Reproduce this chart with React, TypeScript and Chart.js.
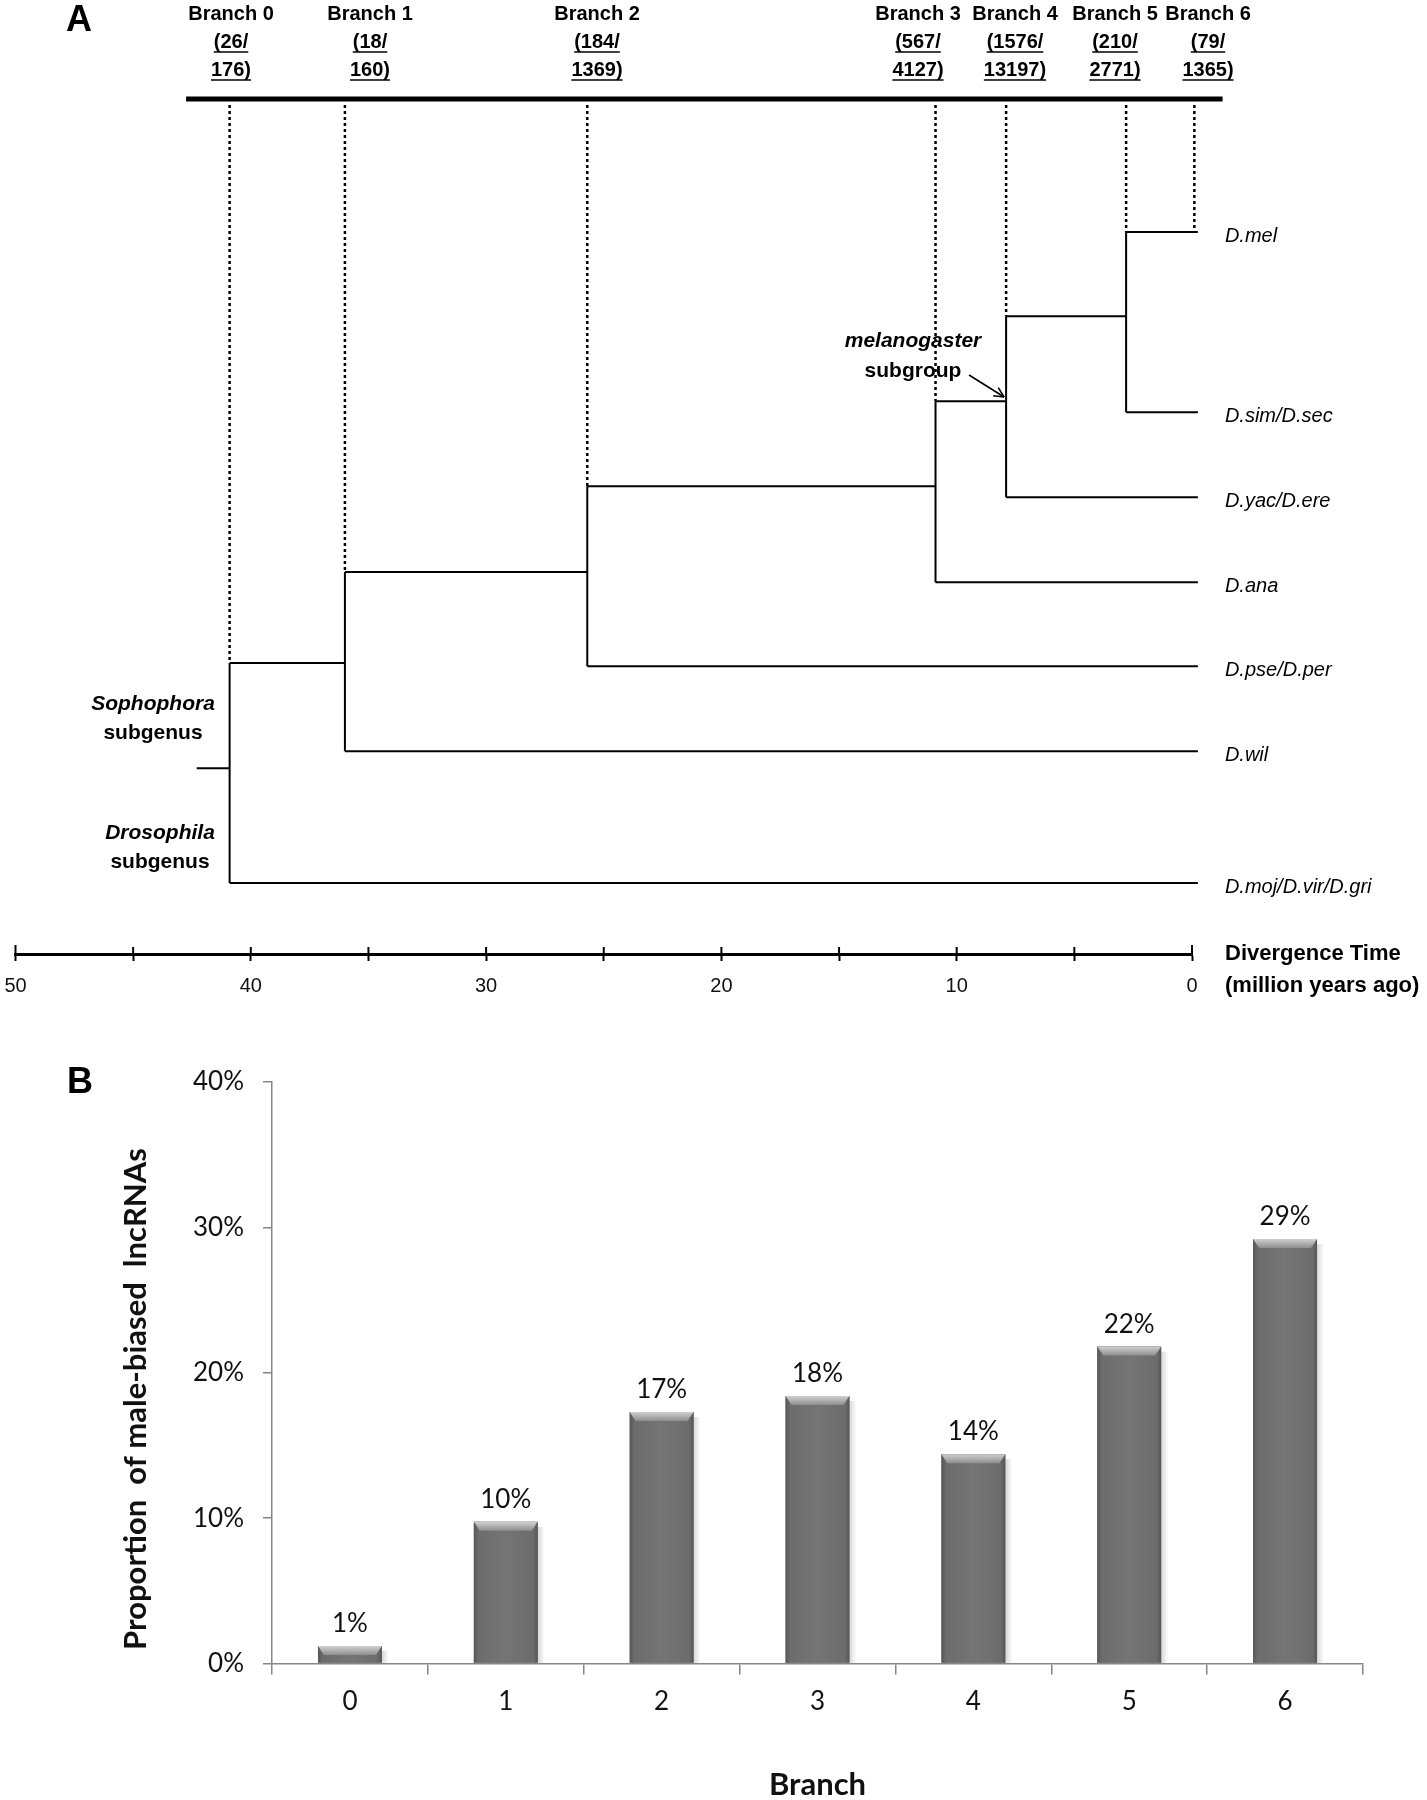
import React, { useEffect, useRef } from "react";
import { Chart, registerables } from "chart.js";

Chart.register(...registerables);

// ---- panel A: tree ----
const branchIds = ["0", "1", "2", "3", "4", "5", "6"];
const branchShared = [26, 18, 184, 567, 1576, 210, 79];
const branchTotal = [176, 160, 1369, 4127, 13197, 2771, 1365];
// age (million years ago) of the node that starts branch 0..5
const nodeAges = [40.9, 36.0, 25.7, 10.9, 7.9, 2.8];
// vertical row of each node's stem
const nodeRows = [6.31, 5.07, 4.0, 2.99, 1.99, 0.99];
const species = ["D.mel", "D.sim/D.sec", "D.yac/D.ere", "D.ana", "D.pse/D.per", "D.wil", "D.moj/D.vir/D.gri"];
const speciesRows = [0, 2.12, 3.12, 4.12, 5.11, 6.11, 7.66];
const rootAge = 42.3;
const tipAge = -0.25;
const branch6Age = -0.1;
const timeMin = 0;
const timeMax = 50;

// ---- panel B: bars ----
const maleBiasedPct = [1.2, 9.75, 17.3, 18.4, 14.4, 21.8, 29.2];
const pctTicks = [0, 10, 20, 30, 40];

// layout (pixels) for panel A
const A_H = 1030;
const AXIS_Y = 954;
const ROW0_PX = 232;
const ROW_PX = 85;
const TOP_BAR_PX = 99;
const DOT_TOP_PX = 105;
const branchLabelX = [231, 370, 597, 918, 1015, 1115, 1208];

const toRow = (px: number) => (px - ROW0_PX) / ROW_PX;

const FONT_A = '"Liberation Sans", Arial, sans-serif';
const FONT_B = 'Lato, "Liberation Sans", sans-serif';

function seg(points: { x: number; y: number }[], width = 2, dash: number[] = []) {
  return {
    data: points,
    showLine: true,
    borderColor: "#000",
    borderWidth: width,
    borderDash: dash,
    pointRadius: 0,
    clip: false as any,
    borderCapStyle: "butt" as const,
  };
}

function treeDatasets() {
  const sets: any[] = [];
  const topRow = toRow(TOP_BAR_PX);
  const dotTop = toRow(DOT_TOP_PX);
  sets.push(seg([{ x: 42.75, y: topRow }, { x: -1.3, y: topRow }], 5));
  // root stub
  sets.push(seg([{ x: rootAge, y: nodeRows[0] }, { x: nodeAges[0], y: nodeRows[0] }]));
  nodeAges.forEach((age, i) => {
    const upperRow = i < nodeAges.length - 1 ? nodeRows[i + 1] : speciesRows[0];
    const leaf = species.length - 1 - i;
    const lowerRow = speciesRows[leaf];
    sets.push(seg([{ x: age, y: upperRow }, { x: age, y: lowerRow }]));
    sets.push(seg([{ x: age, y: lowerRow }, { x: tipAge, y: lowerRow }]));
    const upperEnd = i < nodeAges.length - 1 ? nodeAges[i + 1] : tipAge;
    sets.push(seg([{ x: age, y: upperRow }, { x: upperEnd, y: upperRow }]));
    // dotted branch marker
    sets.push(seg([{ x: age, y: dotTop }, { x: age, y: upperRow }], 2.5, [3, 3]));
  });
  sets.push(seg([{ x: branch6Age, y: dotTop }, { x: branch6Age, y: speciesRows[0] }], 2.5, [3, 3]));
  return sets;
}

const treeText = {
  id: "treeText",
  afterDraw(chart: any) {
    const { ctx } = chart;
    const xs = chart.scales.x;
    const ys = chart.scales.y;
    ctx.save();
    ctx.fillStyle = "#000";
    ctx.strokeStyle = "#000";
    ctx.textBaseline = "middle";

    ctx.textAlign = "center";
    ctx.font = `bold 36px ${FONT_A}`;
    ctx.fillText("A", 79, 21);

    // branch headers
    ctx.font = `bold 20px ${FONT_A}`;
    branchIds.forEach((id, i) => {
      const cx = branchLabelX[i];
      ctx.fillText(`Branch ${id}`, cx, 14);
      const l2 = `(${branchShared[i]}/`;
      const l3 = `${branchTotal[i]})`;
      [[l2, 42], [l3, 70]].forEach(([t, y]: any) => {
        ctx.fillText(t, cx, y);
        const w = ctx.measureText(t).width;
        ctx.lineWidth = 1.6;
        ctx.beginPath();
        ctx.moveTo(cx - w / 2, y + 10);
        ctx.lineTo(cx + w / 2, y + 10);
        ctx.stroke();
      });
    });

    // species
    ctx.textAlign = "left";
    ctx.font = `italic 20px ${FONT_A}`;
    const lx = xs.getPixelForValue(tipAge) + 27;
    species.forEach((s, i) => {
      ctx.fillText(s, lx, ys.getPixelForValue(speciesRows[i]) + 4);
    });

    // groups
    ctx.textAlign = "center";
    ctx.font = `italic bold 21px ${FONT_A}`;
    ctx.fillText("Sophophora", 153, 704);
    ctx.fillText("Drosophila", 160, 833);
    ctx.fillText("melanogaster", 913, 341);
    ctx.font = `bold 21px ${FONT_A}`;
    ctx.fillText("subgenus", 153, 733);
    ctx.fillText("subgenus", 160, 862);
    ctx.fillText("subgroup", 913, 371);

    // arrow to melanogaster node
    const ax = xs.getPixelForValue(nodeAges[4]) - 2;
    const ay = 397;
    ctx.lineWidth = 1.6;
    ctx.beginPath();
    ctx.moveTo(969, 375);
    ctx.lineTo(ax, ay);
    ctx.stroke();
    const ang = Math.atan2(ay - 375, ax - 969);
    ctx.beginPath();
    ctx.moveTo(ax, ay);
    ctx.lineTo(ax - 11 * Math.cos(ang - 0.45), ay - 11 * Math.sin(ang - 0.45));
    ctx.moveTo(ax, ay);
    ctx.lineTo(ax - 11 * Math.cos(ang + 0.45), ay - 11 * Math.sin(ang + 0.45));
    ctx.stroke();

    // upper halves of time-axis ticks
    ctx.lineWidth = 2;
    for (let v = timeMin; v <= timeMax; v += 5) {
      const px = xs.getPixelForValue(v);
      const up = v === timeMin || v === timeMax ? 9 : 7;
      ctx.beginPath();
      ctx.moveTo(px, AXIS_Y - up);
      ctx.lineTo(px, AXIS_Y);
      ctx.stroke();
    }

    ctx.textAlign = "left";
    ctx.font = `bold 22px ${FONT_A}`;
    ctx.fillText("Divergence Time", 1225, AXIS_Y);
    ctx.fillText("(million years ago)", 1225, 986);
    ctx.restore();
  },
};

// ---- bar decorations ----
const barLook = {
  id: "barLook",
  afterDatasetsDraw(chart: any) {
    const { ctx } = chart;
    const meta = chart.getDatasetMeta(0);
    ctx.save();
    meta.data.forEach((bar: any) => {
      const { x, y, width, base } = bar.getProps(["x", "y", "width", "base"], true);
      const left = x - width / 2;
      const right = x + width / 2;
      const h = base - y;
      // soft shadow on the right
      const sh = ctx.createLinearGradient(right, 0, right + 7, 0);
      sh.addColorStop(0, "rgba(0,0,0,0.16)");
      sh.addColorStop(1, "rgba(0,0,0,0)");
      ctx.fillStyle = sh;
      ctx.fillRect(right, y + 5, 7, h - 5);
      // body shading
      const g = ctx.createLinearGradient(left, 0, right, 0);
      g.addColorStop(0, "#565656");
      g.addColorStop(0.07, "#6c6c6c");
      g.addColorStop(0.5, "#757575");
      g.addColorStop(0.93, "#6c6c6c");
      g.addColorStop(1, "#565656");
      ctx.fillStyle = g;
      ctx.fillRect(left, y, width, h);
      // top bevel
      const bh = Math.min(9, h);
      const tg = ctx.createLinearGradient(0, y, 0, y + bh);
      tg.addColorStop(0, "#d0d0d0");
      tg.addColorStop(1, "#8e8e8e");
      ctx.fillStyle = tg;
      ctx.beginPath();
      ctx.moveTo(left, y);
      ctx.lineTo(right, y);
      ctx.lineTo(right - 6, y + bh);
      ctx.lineTo(left + 6, y + bh);
      ctx.closePath();
      ctx.fill();
    });
    // value labels
    ctx.fillStyle = "#111";
    ctx.textAlign = "center";
    ctx.textBaseline = "alphabetic";
    ctx.font = `26px ${FONT_B}`;
    meta.data.forEach((bar: any, i: number) => {
      ctx.fillText(`${Math.round(maleBiasedPct[i])}%`, bar.x, bar.y - 14);
    });
    // y title
    ctx.font = `bold 31px ${FONT_B}`;
    ctx.translate(136, 379);
    ctx.rotate(-Math.PI / 2);
    ctx.textBaseline = "middle";
    ctx.fillText("Proportion  of male-biased  lncRNAs", 0, 0);
    ctx.restore();
    ctx.save();
    ctx.fillStyle = "#000";
    ctx.font = `bold 36px ${FONT_A}`;
    ctx.textAlign = "center";
    ctx.textBaseline = "middle";
    ctx.fillText("B", 80, 63);
    ctx.restore();
  },
};

function TreePanel() {
  const ref = useRef<HTMLCanvasElement>(null);
  useEffect(() => {
    const ctx = ref.current?.getContext("2d");
    if (!ctx) return;
    const chart = new Chart(ctx, {
      type: "scatter",
      data: { datasets: treeDatasets() },
      options: {
        animation: false,
        responsive: true,
        maintainAspectRatio: false,
        layout: { padding: { left: 15.5, right: 235, top: 0, bottom: 0 } },
        plugins: { legend: { display: false }, tooltip: { enabled: false } },
        scales: {
          x: {
            type: "linear",
            min: timeMin,
            max: timeMax,
            reverse: true,
            position: "bottom",
            afterFit: (s: any) => {
              s.height = A_H - AXIS_Y;
              s.paddingLeft = 0;
              s.paddingRight = 0;
            },
            border: { display: true, color: "#000", width: 3 },
            grid: {
              display: true,
              drawOnChartArea: false,
              drawTicks: true,
              tickLength: 7,
              tickWidth: 2,
              tickColor: "#000",
            },
            ticks: {
              stepSize: 5,
              autoSkip: false,
              maxRotation: 0,
              padding: 13,
              color: "#111",
              font: { family: FONT_A, size: 20 },
              callback: (v: any) => (Number(v) % 10 === 0 ? String(v) : ""),
            },
          },
          y: {
            type: "linear",
            display: false,
            reverse: true,
            min: toRow(0),
            max: toRow(AXIS_Y),
          },
        },
      },
      plugins: [treeText],
    });
    return () => chart.destroy();
  }, []);
  return (
    <div style={{ position: "absolute", left: 0, top: 0, width: 1427, height: A_H }}>
      <canvas ref={ref} />
    </div>
  );
}

function BarPanel() {
  const ref = useRef<HTMLCanvasElement>(null);
  useEffect(() => {
    const ctx = ref.current?.getContext("2d");
    if (!ctx) return;
    const chart = new Chart(ctx, {
      type: "bar",
      data: {
        labels: branchIds,
        datasets: [
          {
            data: maleBiasedPct,
            backgroundColor: "#727272",
            borderWidth: 0,
            barPercentage: 0.41,
            categoryPercentage: 1,
          },
        ],
      },
      options: {
        animation: false,
        responsive: true,
        maintainAspectRatio: false,
        layout: { padding: { left: 0, right: 64, top: 62, bottom: 0 } },
        plugins: { legend: { display: false }, tooltip: { enabled: false } },
        scales: {
          x: {
            offset: true,
            afterFit: (s: any) => {
              s.height = 136.5;
            },
            border: { color: "#868686", width: 1.5 },
            grid: {
              offset: true,
              drawOnChartArea: false,
              tickLength: 11,
              color: "#868686",
              lineWidth: 1.5,
            },
            ticks: { color: "#111", padding: 12, font: { family: FONT_B, size: 26 } },
            title: {
              display: true,
              text: "Branch",
              color: "#111",
              font: { family: FONT_B, size: 31, weight: "bold", lineHeight: 1 },
              padding: { top: 0, bottom: 0 },
            },
          },
          y: {
            min: pctTicks[0],
            max: pctTicks[pctTicks.length - 1],
            afterFit: (s: any) => {
              s.width = 272;
            },
            afterBuildTicks: (s: any) => {
              s.ticks = pctTicks.map((v) => ({ value: v }));
            },
            border: { color: "#868686", width: 1.5 },
            grid: {
              drawOnChartArea: false,
              tickLength: 9,
              color: "#868686",
              lineWidth: 1.5,
            },
            ticks: {
              color: "#111",
              padding: 19,
              font: { family: FONT_B, size: 26 },
              callback: (v: any) => `${v}%`,
            },
          },
        },
      },
      plugins: [barLook],
    });
    return () => chart.destroy();
  }, []);
  return (
    <div style={{ position: "absolute", left: 0, top: 1020, width: 1427, height: 780 }}>
      <canvas ref={ref} />
    </div>
  );
}

export default function App() {
  return (
    <div
      style={{
        position: "absolute",
        left: 0,
        top: 0,
        width: 1427,
        height: 1800,
        background: "#fff",
        overflow: "hidden",
      }}
    >
      <TreePanel />
      <BarPanel />
    </div>
  );
}
